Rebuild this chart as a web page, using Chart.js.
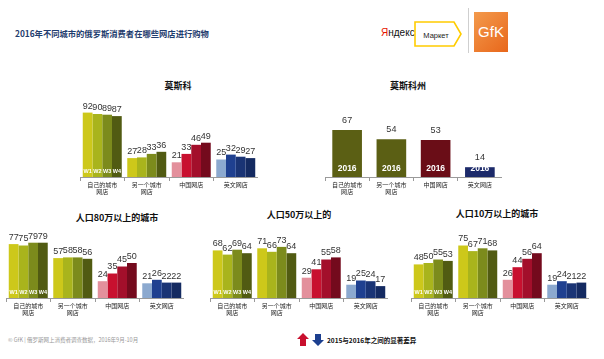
<!DOCTYPE html>
<html><head><meta charset="utf-8">
<script src="https://cdn.jsdelivr.net/npm/chart.js@4"></script>
<style>
body{margin:0;width:604px;height:359px;background:#fff;position:relative;overflow:hidden;font-family:"Noto Sans CJK SC",sans-serif}
canvas{position:absolute}
.t{position:absolute;white-space:nowrap}
.ptitle{position:absolute;font-weight:bold;font-size:9px;color:#111;transform:translate(-50%,-50%);white-space:nowrap;line-height:1}
</style></head><body>
<script>
// ---- data ----
const categories = [['自己的城市','网店'],['另一个城市','网店'],['中国网店'],['英文网店']];
const waves = ['W1','W2','W3','W4'];
// rows = waves W1..W4, columns = categories
const moscowValues = [[92,27,21,25],[90,28,33,32],[89,33,46,29],[87,36,49,27]];
const oblastValues = [67,54,53,14];
const oblastYear = '2016';
const city800kValues = [[77,57,24,21],[75,58,35,26],[79,58,45,22],[79,56,50,22]];
const city500kValues = [[68,71,29,19],[62,66,41,25],[69,73,55,24],[64,64,58,17]];
const city100kValues = [[48,75,26,19],[50,67,44,24],[55,71,56,21],[53,68,64,22]];
</script>

<div class="t" style="left:15px;top:27px;font-size:8.3px;font-weight:bold;color:#1f3d6e;line-height:12px">2016年不同城市的俄罗斯消费者在哪些网店进行购物</div>

<!-- logos -->
<div class="t" style="left:381px;top:26px;font-family:'Liberation Sans',Arial;font-size:10px;color:#111;line-height:13px"><span style="color:#e61400">Я</span>ндекс</div>
<svg class="t" style="left:414px;top:21px" width="50" height="26"><polygon points="1,1 40,1 47,13 40,25 1,25" fill="#fff" stroke="#ffcc00" stroke-width="1.6"/><text x="22" y="16.5" text-anchor="middle" font-family="Liberation Sans,Arial" font-size="7.5" fill="#222">Маркет</text></svg>
<div class="t" style="left:468px;top:8px;width:1px;height:45px;background:#cfcfcf"></div>
<div class="t" style="left:474px;top:12px;width:34px;height:40px;background:linear-gradient(135deg,#f39a4c,#e8671b);color:#fff;font-family:'Liberation Sans',Arial;font-size:15px;line-height:40px;text-align:center">GfK</div>

<!-- panel titles -->
<div class="ptitle" style="left:178px;top:85px">莫斯科</div>
<div class="ptitle" style="left:408px;top:85px">莫斯科州</div>
<div class="ptitle" style="left:117px;top:217px">人口80万以上的城市</div>
<div class="ptitle" style="left:299px;top:214px">人口50万以上的</div>
<div class="ptitle" style="left:497px;top:213px">人口10万以上的城市</div>

<canvas id="c1" width="178" height="150" style="left:80px;top:60px;width:178px;height:150px"></canvas>
<canvas id="c2" width="177" height="150" style="left:325px;top:60px;width:177px;height:150px"></canvas>
<canvas id="c3" width="178" height="140" style="left:6px;top:190px;width:178px;height:140px"></canvas>
<canvas id="c4" width="178" height="140" style="left:210px;top:190px;width:178px;height:140px"></canvas>
<canvas id="c5" width="178" height="140" style="left:411px;top:190px;width:178px;height:140px"></canvas>

<!-- footer -->
<div class="t" style="left:8px;top:336px;font-size:5.5px;color:#999;line-height:8px">© GfK | 俄罗斯网上消费者调查数据，2016年9月-10月</div>
<svg class="t" style="left:296px;top:332px" width="30" height="16">
<polygon points="1,7 7,1 13,7 10,7 10,14 4,14 4,7" fill="#c8102e"/>
<polygon points="16,8 19,8 19,2 25,2 25,8 28,8 22,14" fill="#1c3f8f"/>
</svg>
<div class="t" style="left:327px;top:335px;font-size:6.5px;font-weight:bold;color:#111;line-height:10px">2015与2016年之间的显著差异</div>

<script>
const AXIS_H = 18;
const PX_PER_UNIT = 0.7;
const olive = ['#cdc81a','#a9b41c','#7c8b1c','#515b12'];
const reds  = ['#e3909c','#c8102f','#a30f2b','#740a1d'];
const blues = ['#8ca9cf','#1f4090','#1a3475','#142a61'];
const groupPalettes = [olive, olive, reds, blues];
const oblastColors = ['#5b5f14','#5b5f14','#6a0d17','#1c2a6a'];

function drawLabels(chart, cfg) {
  const ctx = chart.ctx;
  chart.data.datasets.forEach((ds, di) => {
    const meta = chart.getDatasetMeta(di);
    meta.data.forEach((bar, i) => {
      ctx.save();
      ctx.font = cfg.font;
      ctx.fillStyle = '#333';
      ctx.textAlign = 'center';
      ctx.textBaseline = 'bottom';
      ctx.fillText(String(ds.data[i]), bar.x, bar.y - cfg.offset);
      if (cfg.innerCats.indexOf(i) >= 0) {
        ctx.font = cfg.innerFont;
        ctx.fillStyle = '#fff';
        ctx.textBaseline = 'middle';
        ctx.fillText(cfg.innerText(di), bar.x, bar.base - cfg.innerOffset);
      }
      ctx.restore();
    });
  });
}

function baseOptions() {
  return {
    responsive: false,
    animation: false,
    events: [],
    layout: { padding: 0 },
    plugins: { legend: { display: false }, title: { display: false }, tooltip: { enabled: false } },
    scales: {
      x: {
        grid: { display: true, drawOnChartArea: false, drawTicks: true, tickLength: 4, color: '#9a9a9a', offset: true },
        border: { display: true, color: '#9a9a9a', width: 1 },
        ticks: { font: { family: 'Noto Sans CJK SC', size: 6, lineHeight: 1.15 }, color: '#222', padding: 0, maxRotation: 0, minRotation: 0, autoSkip: false },
        afterFit: (scale) => { scale.height = AXIS_H; }
      },
      y: { display: false, min: 0, max: 100 }
    }
  };
}

// put the chart's baseline at page y = baselineY and scale values at PX_PER_UNIT
function placeChart(chart, baselineY, labelCfg) {
  const canvas = chart.canvas;
  let rect = canvas.getBoundingClientRect();
  let sy = rect.height / chart.height || 1;
  const ca = chart.chartArea;
  chart.options.scales.y.max = (ca.bottom - ca.top) * sy / PX_PER_UNIT;
  chart.update('none');
  const ca2 = chart.chartArea;
  rect = canvas.getBoundingClientRect();
  sy = rect.height / chart.height || 1;
  const curTop = parseFloat(canvas.style.top) || 0;
  const pageBase = rect.top + ca2.bottom * sy;
  canvas.style.top = (curTop + (baselineY - pageBase)) + 'px';
  drawLabels(chart, labelCfg);
}

function wavePanel(id, values, baselineY) {
  const chart = new Chart(document.getElementById(id), {
    type: 'bar',
    data: {
      labels: categories,
      datasets: waves.map((w, wi) => ({
        label: w,
        data: values[wi],
        backgroundColor: groupPalettes.map(p => p[wi]),
        borderWidth: 0,
        categoryPercentage: 0.876,
        barPercentage: 1
      }))
    },
    options: baseOptions()
  });
  placeChart(chart, baselineY, {
    font: '9px "Liberation Sans", Arial', offset: 2,
    innerText: (di) => waves[di], innerCats: [0], innerFont: 'bold 5.5px "Liberation Sans", Arial', innerOffset: 6
  });
}

wavePanel('c1', moscowValues, 177);
wavePanel('c3', city800kValues, 298);
wavePanel('c4', city500kValues, 298);
wavePanel('c5', city100kValues, 298);

const oblastChart = new Chart(document.getElementById('c2'), {
  type: 'bar',
  data: {
    labels: categories,
    datasets: [{
      label: oblastYear,
      data: oblastValues,
      backgroundColor: oblastColors,
      borderWidth: 0,
      categoryPercentage: 0.67,
      barPercentage: 1
    }]
  },
  options: baseOptions()
});
placeChart(oblastChart, 177, {
  font: '9px "Liberation Sans", Arial', offset: 5,
  innerText: () => oblastYear, innerCats: [0,1,2,3], innerFont: 'bold 8.5px "Liberation Sans", Arial', innerOffset: 8
});
</script>
</body></html>
